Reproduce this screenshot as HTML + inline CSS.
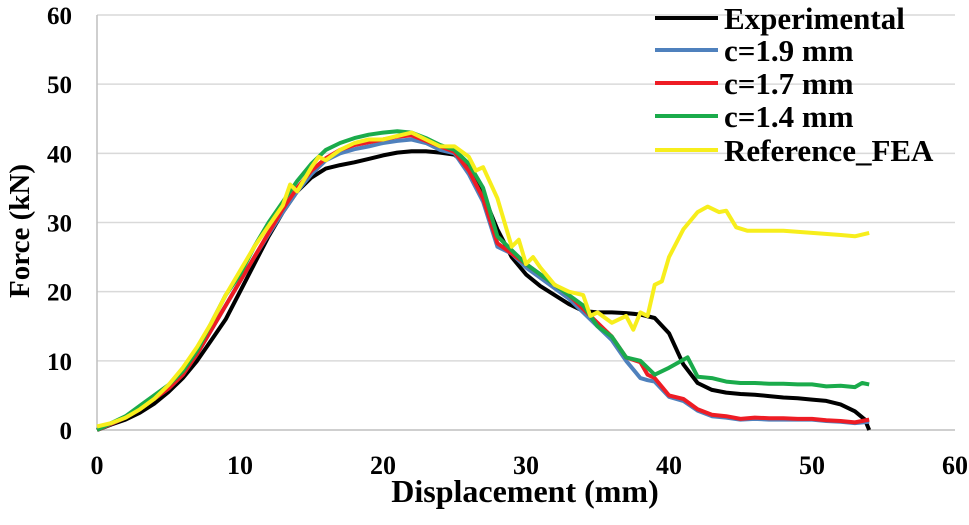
<!DOCTYPE html>
<html><head><meta charset="utf-8"><style>
html,body{margin:0;padding:0;background:#fff}
svg text{font-family:"Liberation Serif",serif;font-weight:bold;fill:#000}
</style></head><body>
<svg id="chart" width="969" height="520">
<g id="grid"></g>
<g id="axes"></g>
<g id="series"></g>
<g id="legend"></g>
<text x="525" y="502" font-size="32" text-anchor="middle">Displacement (mm)</text>
<text transform="translate(29,231) rotate(-90)" font-size="29" text-anchor="middle">Force (kN)</text>
</svg>
<script>
const xTicks=[0,10,20,30,40,50,60];
const yTicks=[0,10,20,30,40,50,60];
const seriesNames=["Experimental","c=1.9 mm","c=1.7 mm","c=1.4 mm","Reference_FEA"];
const seriesColors=["#000000","#4f81bd","#ee1c24","#1aab4b","#f7ee1c"];
const expX=[0,1,2,3,4,5,6,7,8,9,10,11,12,13,14,15,16,17,18,19,20,21,22,23,24,25,26,27,28,29,30,31,32,33,34,35,36,37,38,39,40,41,42,43,44,45,46,47,48,49,50,51,52,53,53.7,54];
const expY=[0,0.8,1.5,2.5,3.8,5.5,7.5,10,13,16,20,24,28,31.5,34.5,36.5,37.8,38.3,38.7,39.2,39.7,40.1,40.3,40.3,40.1,39.8,38,34,29,25,22.5,20.8,19.5,18.2,17.2,17,17,16.9,16.7,16.2,14,9.5,6.8,5.8,5.4,5.2,5.1,4.9,4.7,4.6,4.4,4.2,3.7,2.7,1.5,0];
const c19X=[0,1,2,3,4,5,6,7,8,9,10,11,12,13,14,15,16,17,18,19,20,21,22,23,24,25,26,27,28,29,30,31,32,33,34,35,36,37,38,38.5,39,40,41,42,43,44,45,46,47,48,49,50,51,52,53,54];
const c19Y=[0,0.9,1.8,3,4.5,6,8,11,14.5,18,21.5,25,28.3,31.5,34.5,37,39,40,40.6,41,41.5,41.8,42,41.5,40.5,40,37,33,26.5,25.5,23.5,22,20.5,19,17,15,13,10,7.5,7.2,7,4.8,4.2,2.8,2,1.8,1.5,1.6,1.5,1.5,1.5,1.5,1.3,1.2,1,1.2];
const c17X=c19X;
const c17Y=[0,0.9,1.8,3,4.5,6,8,11,14.5,18,21.5,25,28.5,32,35,37.5,39.3,40.5,41.2,41.6,42,42.4,42.6,41.8,41,40.2,37.5,33.5,27,25.5,24,22.5,21,19.5,17.5,15.5,13.5,10.5,9.8,8,7.5,5,4.5,3,2.2,2,1.6,1.8,1.7,1.7,1.6,1.6,1.4,1.3,1.1,1.5];
const c14X=[0,1,2,3,4,5,6,7,8,9,10,11,12,13,14,15,16,17,18,19,20,21,22,23,24,25,26,27,28,29,30,31,32,33,34,35,36,37,38,39,40,41.3,42,43,44,45,46,47,48,49,50,51,52,53,53.5,54];
const c14Y=[0,1,2,3.5,5,6.5,8.5,11.5,15.5,19.5,22.5,26.5,30,33,36,38.5,40.5,41.5,42.2,42.7,43,43.2,43,42.2,41.2,40.5,38.5,35,28,26,24,22.5,21,19.5,18,15,13.5,10.5,10,8,9,10.5,7.7,7.5,7,6.8,6.8,6.7,6.7,6.6,6.6,6.3,6.4,6.2,6.8,6.6];
const refX=[0,1,2,3,4,5,6,7,8,9,10,11,12,13,13.5,14,15,15.5,16,17,18,19,20,21,22,23,24,25,26,26.5,27,28,29,29.5,30,30.5,31,32,33,34,34.5,35,36,37,37.5,38,38.5,39,39.5,40,41,42,42.7,43.5,44,44.7,45.5,47,48,50,52,53,54];
const refY=[0.5,1,1.8,3,4.5,6.5,9,12,15.5,19.5,23,26.5,29.5,32.5,35.5,34.5,38,39.5,39,40.5,41.5,42,42,42.5,43,42,41,41,39.5,37.5,38,33.5,26.5,27.5,24,25,23.5,21,20,19.5,16.5,17,15.5,16.5,14.5,17,16.5,21,21.5,25,29,31.5,32.3,31.5,31.7,29.3,28.8,28.8,28.8,28.5,28.2,28,28.5];
const allX=[expX,c19X,c17X,c14X,refX];
const allY=[expY,c19Y,c17Y,c14Y,refY];

const NS="http://www.w3.org/2000/svg";
const X0=97,X1=955,Y0=430,Y1=15;
const sx=v=>X0+(v-0)/(60-0)*(X1-X0);
const sy=v=>Y0-(v-0)/(60-0)*(Y0-Y1);
function mk(tag,attrs,parent){const e=document.createElementNS(NS,tag);for(const k in attrs)e.setAttribute(k,attrs[k]);parent.appendChild(e);return e;}
const grid=document.getElementById('grid'),axes=document.getElementById('axes'),ser=document.getElementById('series'),leg=document.getElementById('legend');
yTicks.forEach(t=>{
  if(t>0){const g=mk('line',{x1:X0,x2:X1,y1:sy(t),y2:sy(t),stroke:'#d9d9d9','stroke-width':1.5},grid);
  
  }
  const l=mk('text',{x:X0-25,y:sy(t)+9,'font-size':25,'text-anchor':'end'},axes);l.textContent=t;
  
  
});
xTicks.forEach(t=>{
  const l=mk('text',{x:sx(t),y:Y0+44,'font-size':26,'text-anchor':'middle'},axes);l.textContent=t;
  
  
});
const ya=mk('line',{x1:X0,x2:X0,y1:Y1,y2:Y0,stroke:'#bfbfbf','stroke-width':1.5},axes);


const xa=mk('line',{x1:X0,x2:X1,y1:Y0,y2:Y0,stroke:'#bfbfbf','stroke-width':1.5},axes);


[0,1,2,3,4].forEach(i=>{
  const pts=allX[i].map((x,j)=>sx(x).toFixed(1)+','+sy(allY[i][j]).toFixed(1)).join(' ');
  const p=mk('polyline',{points:pts,fill:'none',stroke:seriesColors[i],'stroke-width':4,'stroke-linejoin':'round'},ser);
  
  
});
const legY=[18,50,83,116,150];
seriesNames.forEach((n,i)=>{
  const g=mk('g',{},leg);
  
  
  mk('line',{x1:655,x2:718,y1:legY[i],y2:legY[i],stroke:seriesColors[i],'stroke-width':4},g);
  const t=mk('text',{x:724,y:legY[i]+11,'font-size':31},g);t.textContent=n;
});
</script>
</body></html>
